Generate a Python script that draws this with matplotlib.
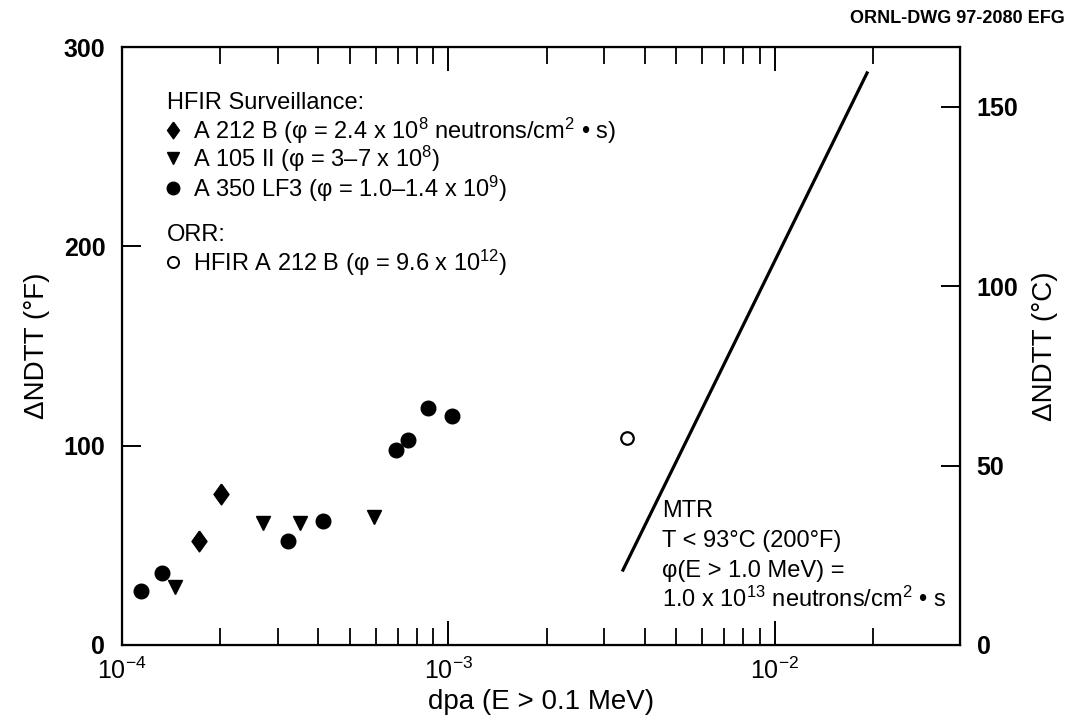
import numpy as np
import matplotlib
matplotlib.use('Agg')
import matplotlib.pyplot as plt
from matplotlib.ticker import FixedLocator, NullFormatter, LogFormatterMathtext

plt.rcParams['font.family'] = ['Liberation Sans', 'DejaVu Sans']
plt.rcParams['mathtext.fontset'] = 'custom'
plt.rcParams['mathtext.rm'] = 'Liberation Sans'
plt.rcParams['mathtext.it'] = 'Liberation Sans:italic'
plt.rcParams['mathtext.bf'] = 'Liberation Sans:bold'

# HFIR surveillance data, dpa vs delta NDTT (F)
a212b_dpa = [1.72e-4, 2.01e-4]
a212b_dndtt = [52, 76]
a105_dpa = [1.45e-4, 2.70e-4, 3.50e-4, 5.94e-4]
a105_dndtt = [29, 61, 61, 64]
a350_dpa = [1.14e-4, 1.33e-4, 3.22e-4, 4.12e-4, 6.93e-4, 7.55e-4, 8.69e-4, 1.03e-3]
a350_dndtt = [27, 36, 52, 62, 98, 103, 119, 115]
# ORR
orr_dpa = [3.52e-3]
orr_dndtt = [104]
# MTR trend line
mtr_dpa = [3.43e-3, 1.92e-2]
mtr_dndtt = [37.6, 287]

fs = 17      # legend / annotation text
tfs = 18     # tick labels
lfs = 20     # axis labels

# diamond a bit wider than matplotlib's thin diamond
diamond = [(0, 1), (0.72, 0), (0, -1), (-0.72, 0), (0, 1)]

fig = plt.figure(figsize=(10.68, 7.27), dpi=100)
ax = fig.add_axes([0.1142, 0.1128, 0.7847, 0.8225])

ax.plot(a212b_dpa, a212b_dndtt, marker=diamond, color='black', ms=15, ls='none')
ax.plot(a105_dpa, a105_dndtt, 'v', color='black', ms=10, ls='none')
ax.plot(a350_dpa, a350_dndtt, 'o', color='black', ms=10.5, ls='none')
ax.plot(orr_dpa, orr_dndtt, 'o', mfc='white', mec='black', mew=1.6, ms=9, ls='none')
ax.plot(mtr_dpa, mtr_dndtt, '-', color='black', lw=2.3)

ax.set_xscale('log')
ax.set_xlim(1e-4, 0.037)
ax.set_ylim(0, 300)
ax.xaxis.set_major_locator(FixedLocator([1e-4, 1e-3, 1e-2]))
ax.xaxis.set_major_formatter(LogFormatterMathtext())
minors = [m * 10.0 ** e for e in (-4, -3, -2) for m in range(2, 10) if m * 10.0 ** e < 0.025]
ax.xaxis.set_minor_locator(FixedLocator(minors))
ax.xaxis.set_minor_formatter(NullFormatter())
ax.set_yticks([0, 100, 200, 300])

for s in ax.spines.values():
    s.set_linewidth(1.6)
ax.tick_params(axis='x', which='major', direction='in', top=True, length=17, width=1.4,
               labelsize=tfs, pad=9)
ax.tick_params(axis='x', which='minor', direction='in', top=True, length=12, width=1.3)
ax.tick_params(axis='y', which='major', direction='in', length=14, width=1.4, labelsize=tfs, pad=12)
for lab in ax.get_yticklabels():
    lab.set_fontweight('bold')

ax.set_xlabel('dpa (E > 0.1 MeV)', fontsize=lfs, labelpad=4)
ax.set_ylabel('ΔNDTT (°F)', fontsize=lfs, labelpad=10)

ax2 = ax.twinx()
ax2.set_ylim(0, 300 * 5 / 9)
ax2.set_yticks([0, 50, 100, 150])
ax2.tick_params(axis='y', direction='in', length=14, width=1.4, labelsize=tfs, pad=12)
for lab in ax2.get_yticklabels():
    lab.set_fontweight('bold')
ax2.set_ylabel('ΔNDTT (°C)', fontsize=lfs, labelpad=10)

# legend block, written as text
tx = 0.0537
mx, lx = 0.0609, 0.0847
ax.text(tx, 0.897, 'HFIR Surveillance:', transform=ax.transAxes, fontsize=fs, va='baseline')
rows = [(diamond, 12, 0.861, 0.847, r'A 212 B (φ = 2.4 x 10$^{8}$ neutrons/cm$^{2}$ • s)'),
        ('v', 8, 0.814, 0.800, r'A 105 II (φ = 3–7 x 10$^{8}$)'),
        ('o', 9, 0.764, 0.750, r'A 350 LF3 (φ = 1.0–1.4 x 10$^{9}$)')]
for mk, ms, my, ty, label in rows:
    ax.plot([mx], [my], marker=mk, color='black', ms=ms, transform=ax.transAxes, clip_on=False)
    ax.text(lx, ty, label, transform=ax.transAxes, fontsize=fs, va='baseline')
ax.text(tx, 0.675, 'ORR:', transform=ax.transAxes, fontsize=fs, va='baseline')
ax.plot([mx], [0.640], 'o', mfc='white', mec='black', mew=1.4, ms=8, transform=ax.transAxes)
ax.text(lx, 0.626, r'HFIR A 212 B (φ = 9.6 x 10$^{12}$)', transform=ax.transAxes,
        fontsize=fs, va='baseline')

# MTR annotation
mtr_lines = ['MTR', 'T < 93°C (200°F)', 'φ(E > 1.0 MeV) =',
             r'1.0 x 10$^{13}$ neutrons/cm$^{2}$ • s']
for i, t in enumerate(mtr_lines):
    ax.text(0.644, 0.214 - 0.05 * i, t, transform=ax.transAxes, fontsize=fs, va='baseline')

fig.text(0.997, 0.975, 'ORNL-DWG 97-2080 EFG', ha='right', va='center',
         fontsize=13, fontweight='bold')

fig.savefig('out.png', dpi=100, facecolor='white')
